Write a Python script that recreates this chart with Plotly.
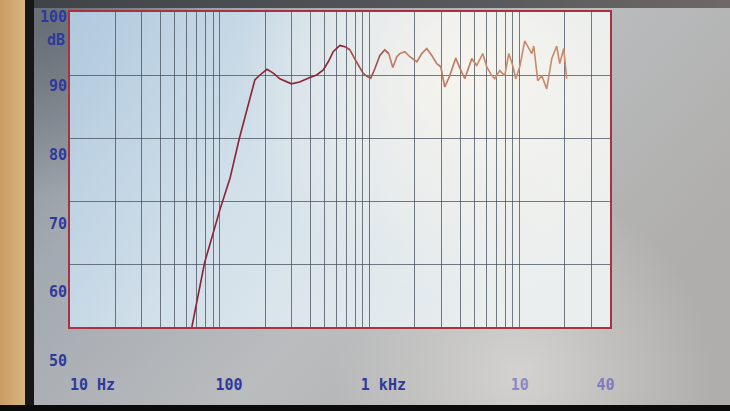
import base64
import math
import plotly.graph_objects as go

# ---------------- data ----------------
FREQ_HZ = [65, 79, 100, 117, 135, 158, 171, 185, 206, 227,
           251, 300, 340, 398, 442, 489, 528, 570, 631, 684,
           736, 814, 902, 955, 1015, 1080, 1166, 1259, 1338, 1423,
           1514, 1585, 1711, 1848, 2058, 2222, 2399, 2591, 2797, 2974,
           3162, 3415, 3744, 3981, 4299, 4786, 5168, 5666, 6026, 6506,
           6813, 7356, 7943, 8447, 8981, 9404, 10000, 10798, 11307, 12023,
           12397, 13183, 14019, 15136, 16345, 16857, 17652, 18478, 19652, 20570]
LEVEL_DB = [50.0, 60.2, 68.6, 73.7, 80.0, 86.0, 89.2, 90.0, 90.9, 90.3,
            89.4, 88.6, 88.9, 89.6, 90.0, 90.8, 92.1, 93.7, 94.7, 94.5,
            94.0, 92.1, 90.3, 89.8, 89.5, 91.0, 93.1, 94.0, 93.4, 91.2,
            92.9, 93.4, 93.7, 92.9, 92.1, 93.4, 94.2, 93.1, 91.8, 91.3,
            88.1, 89.9, 92.7, 91.1, 89.4, 92.6, 91.5, 93.4, 91.3, 89.9,
            89.4, 90.7, 89.9, 93.4, 91.5, 89.4, 91.3, 95.4, 94.6, 93.4,
            94.6, 89.1, 89.9, 87.8, 92.6, 93.4, 94.6, 91.8, 94.2, 89.4]

GRID_FREQ = [10, 20, 30, 40, 50, 60, 70, 80, 90,
             100, 200, 300, 400, 500, 600, 700, 800, 900,
             1000, 2000, 3000, 4000, 5000, 6000, 7000, 8000, 9000,
             10000, 20000, 30000, 40000]
X_LABELS = {10: "10 Hz", 100: "100", 1000: "1 kHz", 10000: "10", 40000: "40"}
Y_GRID = [60, 70, 80, 90]
Y_LABELS = [50, 60, 70, 80, 90, 100]
Y_RANGE = [50, 100]
F_RANGE = [10, 40000]

# ---------------- geometry / styles ----------------
W, H = 730, 411
ML, MR, MT, MB = 70, 120, 12, 40
IW, IH = W - ML - MR, H - MT - MB
PLOT_BOTTOM = 327
Y_DOM = [(H - MB - PLOT_BOTTOM) / IH, 1.0]
LBL_DOM = [(H - MB - 361) / IH, (H - MB - 17) / IH]

BLUE = "#2d3a9c"
FONT = "DejaVu Sans Mono"
GRID_COL = "rgba(70,80,92,0.75)"
FRAME_COL = "#a8323f"
LBL_FONT = dict(family=FONT, size=15, color=BLUE, weight="bold")

svg = f"""<svg xmlns='http://www.w3.org/2000/svg' width='{W}' height='{H}' viewBox='0 0 {W} {H}'>
<defs>
<linearGradient id='scr' x1='0' y1='0' x2='1' y2='0.5'>
<stop offset='0' stop-color='#7f868e'/><stop offset='0.3' stop-color='#a3a9b0'/>
<stop offset='0.65' stop-color='#babcbe'/><stop offset='1' stop-color='#afaeac'/></linearGradient>
<linearGradient id='wood' x1='0' y1='0' x2='1' y2='0'>
<stop offset='0' stop-color='#c99d63'/><stop offset='1' stop-color='#d7b57e'/></linearGradient>
<linearGradient id='top' x1='0' y1='0' x2='1' y2='0'>
<stop offset='0' stop-color='#3f4347'/><stop offset='0.6' stop-color='#55575a'/><stop offset='1' stop-color='#6e6866'/></linearGradient>
<linearGradient id='plot' x1='0' y1='0' x2='1' y2='0.35'>
<stop offset='0' stop-color='#b0c9dd'/><stop offset='0.45' stop-color='#d2e0ea'/>
<stop offset='1' stop-color='#eaeeee'/></linearGradient>
<radialGradient id='glare' cx='470' cy='70' r='230' gradientUnits='userSpaceOnUse'>
<stop offset='0' stop-color='#fbf6ee' stop-opacity='0.9'/><stop offset='1' stop-color='#fbf6ee' stop-opacity='0'/></radialGradient>
<radialGradient id='glare2' cx='520' cy='375' r='190' gradientUnits='userSpaceOnUse'>
<stop offset='0' stop-color='#d9d8d5' stop-opacity='0.85'/><stop offset='1' stop-color='#d9d8d5' stop-opacity='0'/></radialGradient>
<radialGradient id='dark' cx='45' cy='25' r='170' gradientUnits='userSpaceOnUse'>
<stop offset='0' stop-color='#5a6068' stop-opacity='0.7'/><stop offset='1' stop-color='#5a6068' stop-opacity='0'/></radialGradient>
</defs>
<rect x='0' y='0' width='{W}' height='{H}' fill='url(#scr)'/>
<rect x='0' y='0' width='{W}' height='{H}' fill='url(#glare2)'/>
<rect x='0' y='0' width='{W}' height='{H}' fill='url(#dark)'/>
<rect x='25' y='0' width='{W-25}' height='8' fill='url(#top)'/>
<rect x='0' y='0' width='25' height='{H}' fill='url(#wood)'/>
<rect x='25' y='0' width='9' height='{H}' fill='#161616'/>
<rect x='0' y='405' width='{W}' height='6' fill='#0b0b0b'/>
<rect x='{ML}' y='{MT}' width='{IW}' height='{PLOT_BOTTOM-MT}' fill='url(#plot)'/>
<rect x='{ML}' y='{MT}' width='{IW}' height='{PLOT_BOTTOM-MT}' fill='url(#glare)'/>
</svg>"""
bg_uri = "data:image/svg+xml;base64," + base64.b64encode(svg.encode()).decode()

# ---------------- traces ----------------
segments = [(0, 700, "#8a2535"), (700, 1300, "#a0504a"),
            (1300, 5000, "#bd7a60"), (5000, 1e9, "#c88a6a")]
fig = go.Figure()
for lo, hi, col in segments:
    idx = [i for i, f in enumerate(FREQ_HZ) if lo <= f <= hi]
    if idx:
        a, b = max(idx[0] - 1, 0), min(idx[-1] + 1, len(FREQ_HZ) - 1)
        fig.add_trace(go.Scatter(x=FREQ_HZ[a:b + 1], y=LEVEL_DB[a:b + 1],
                                 mode="lines", line=dict(color=col, width=1.6),
                                 hoverinfo="skip", showlegend=False))

# empty trace so the dB label axis (x2/y2) is drawn
fig.add_trace(go.Scatter(x=[None], y=[None], xaxis="x2", yaxis="y2", mode="lines",
                         hoverinfo="skip", showlegend=False))

light = {10000: "#8a88c0", 40000: "#7e7cbc"}
pad = {10: ("\u00a0" * 5, ""), 100: ("\u00a0\u00a0", ""), 1000: ("\u00a0\u00a0\u00a0", ""),
       10000: ("", ""), 40000: ("", "\u00a0")}
ticktext = []
for f in GRID_FREQ:
    if f in X_LABELS:
        pre, post = pad[f]
        col = light.get(f, BLUE)
        ticktext.append(f"{pre}<span style='color:{col}'>{X_LABELS[f]}</span>{post}")
    else:
        ticktext.append("")

fig.update_layout(
    width=W, height=H,
    margin=dict(l=ML, r=MR, t=MT, b=MB, pad=0, autoexpand=False),
    paper_bgcolor="#b4b8bd",
    plot_bgcolor="rgba(0,0,0,0)",
    font=LBL_FONT,
    images=[dict(source=bg_uri, xref="paper", yref="paper",
                 x=-ML / IW, y=(H - MB) / IH, sizex=W / IW, sizey=H / IH,
                 xanchor="left", yanchor="top", sizing="stretch", layer="below")],
    xaxis=dict(type="log", range=[math.log10(F_RANGE[0]), math.log10(F_RANGE[1])],
               domain=[0, 1], anchor="y", automargin=False,
               tickmode="array", tickvals=GRID_FREQ, ticktext=ticktext,
               showgrid=True, gridcolor=GRID_COL, gridwidth=1,
               showline=True, linecolor=FRAME_COL, linewidth=1.5, mirror=True,
               ticks="", ticklabelstandoff=43, zeroline=False,
               tickfont=LBL_FONT),
    yaxis=dict(range=Y_RANGE, domain=Y_DOM, anchor="x", automargin=False,
               tickmode="array", tickvals=Y_GRID, showticklabels=False,
               showgrid=True, gridcolor=GRID_COL, gridwidth=1,
               showline=True, linecolor=FRAME_COL, linewidth=1.5, mirror=True,
               ticks="", zeroline=False),
    xaxis2=dict(type="log", range=[math.log10(F_RANGE[0]), math.log10(F_RANGE[1])],
                domain=[0, 1], anchor="y2", automargin=False, showgrid=False,
                showline=False, showticklabels=False, ticks="", zeroline=False),
    yaxis2=dict(range=Y_RANGE, domain=LBL_DOM, anchor="x2", automargin=False,
                tickmode="array", tickvals=Y_LABELS,
                ticktext=[str(v) for v in Y_LABELS],
                showgrid=False, showline=False, zeroline=False, ticks="",
                ticklabelstandoff=2, tickfont=LBL_FONT),
    annotations=[dict(text="dB", xref="paper", yref="paper", x=0,
                      y=(H - MB - 40) / IH, xanchor="right", yanchor="middle",
                      xshift=-3, showarrow=False, font=LBL_FONT)],
)

fig.write_html("out.html", config={"displayModeBar": False})

# remove the page's default body margin so the figure sits at (0, 0)
with open("out.html", "r", encoding="utf-8") as fh:
    html = fh.read()
html = html.replace("<head>", "<head><style>html,body{margin:0;padding:0;overflow:hidden;}</style>", 1)
with open("out.html", "w", encoding="utf-8") as fh:
    fh.write(html)
